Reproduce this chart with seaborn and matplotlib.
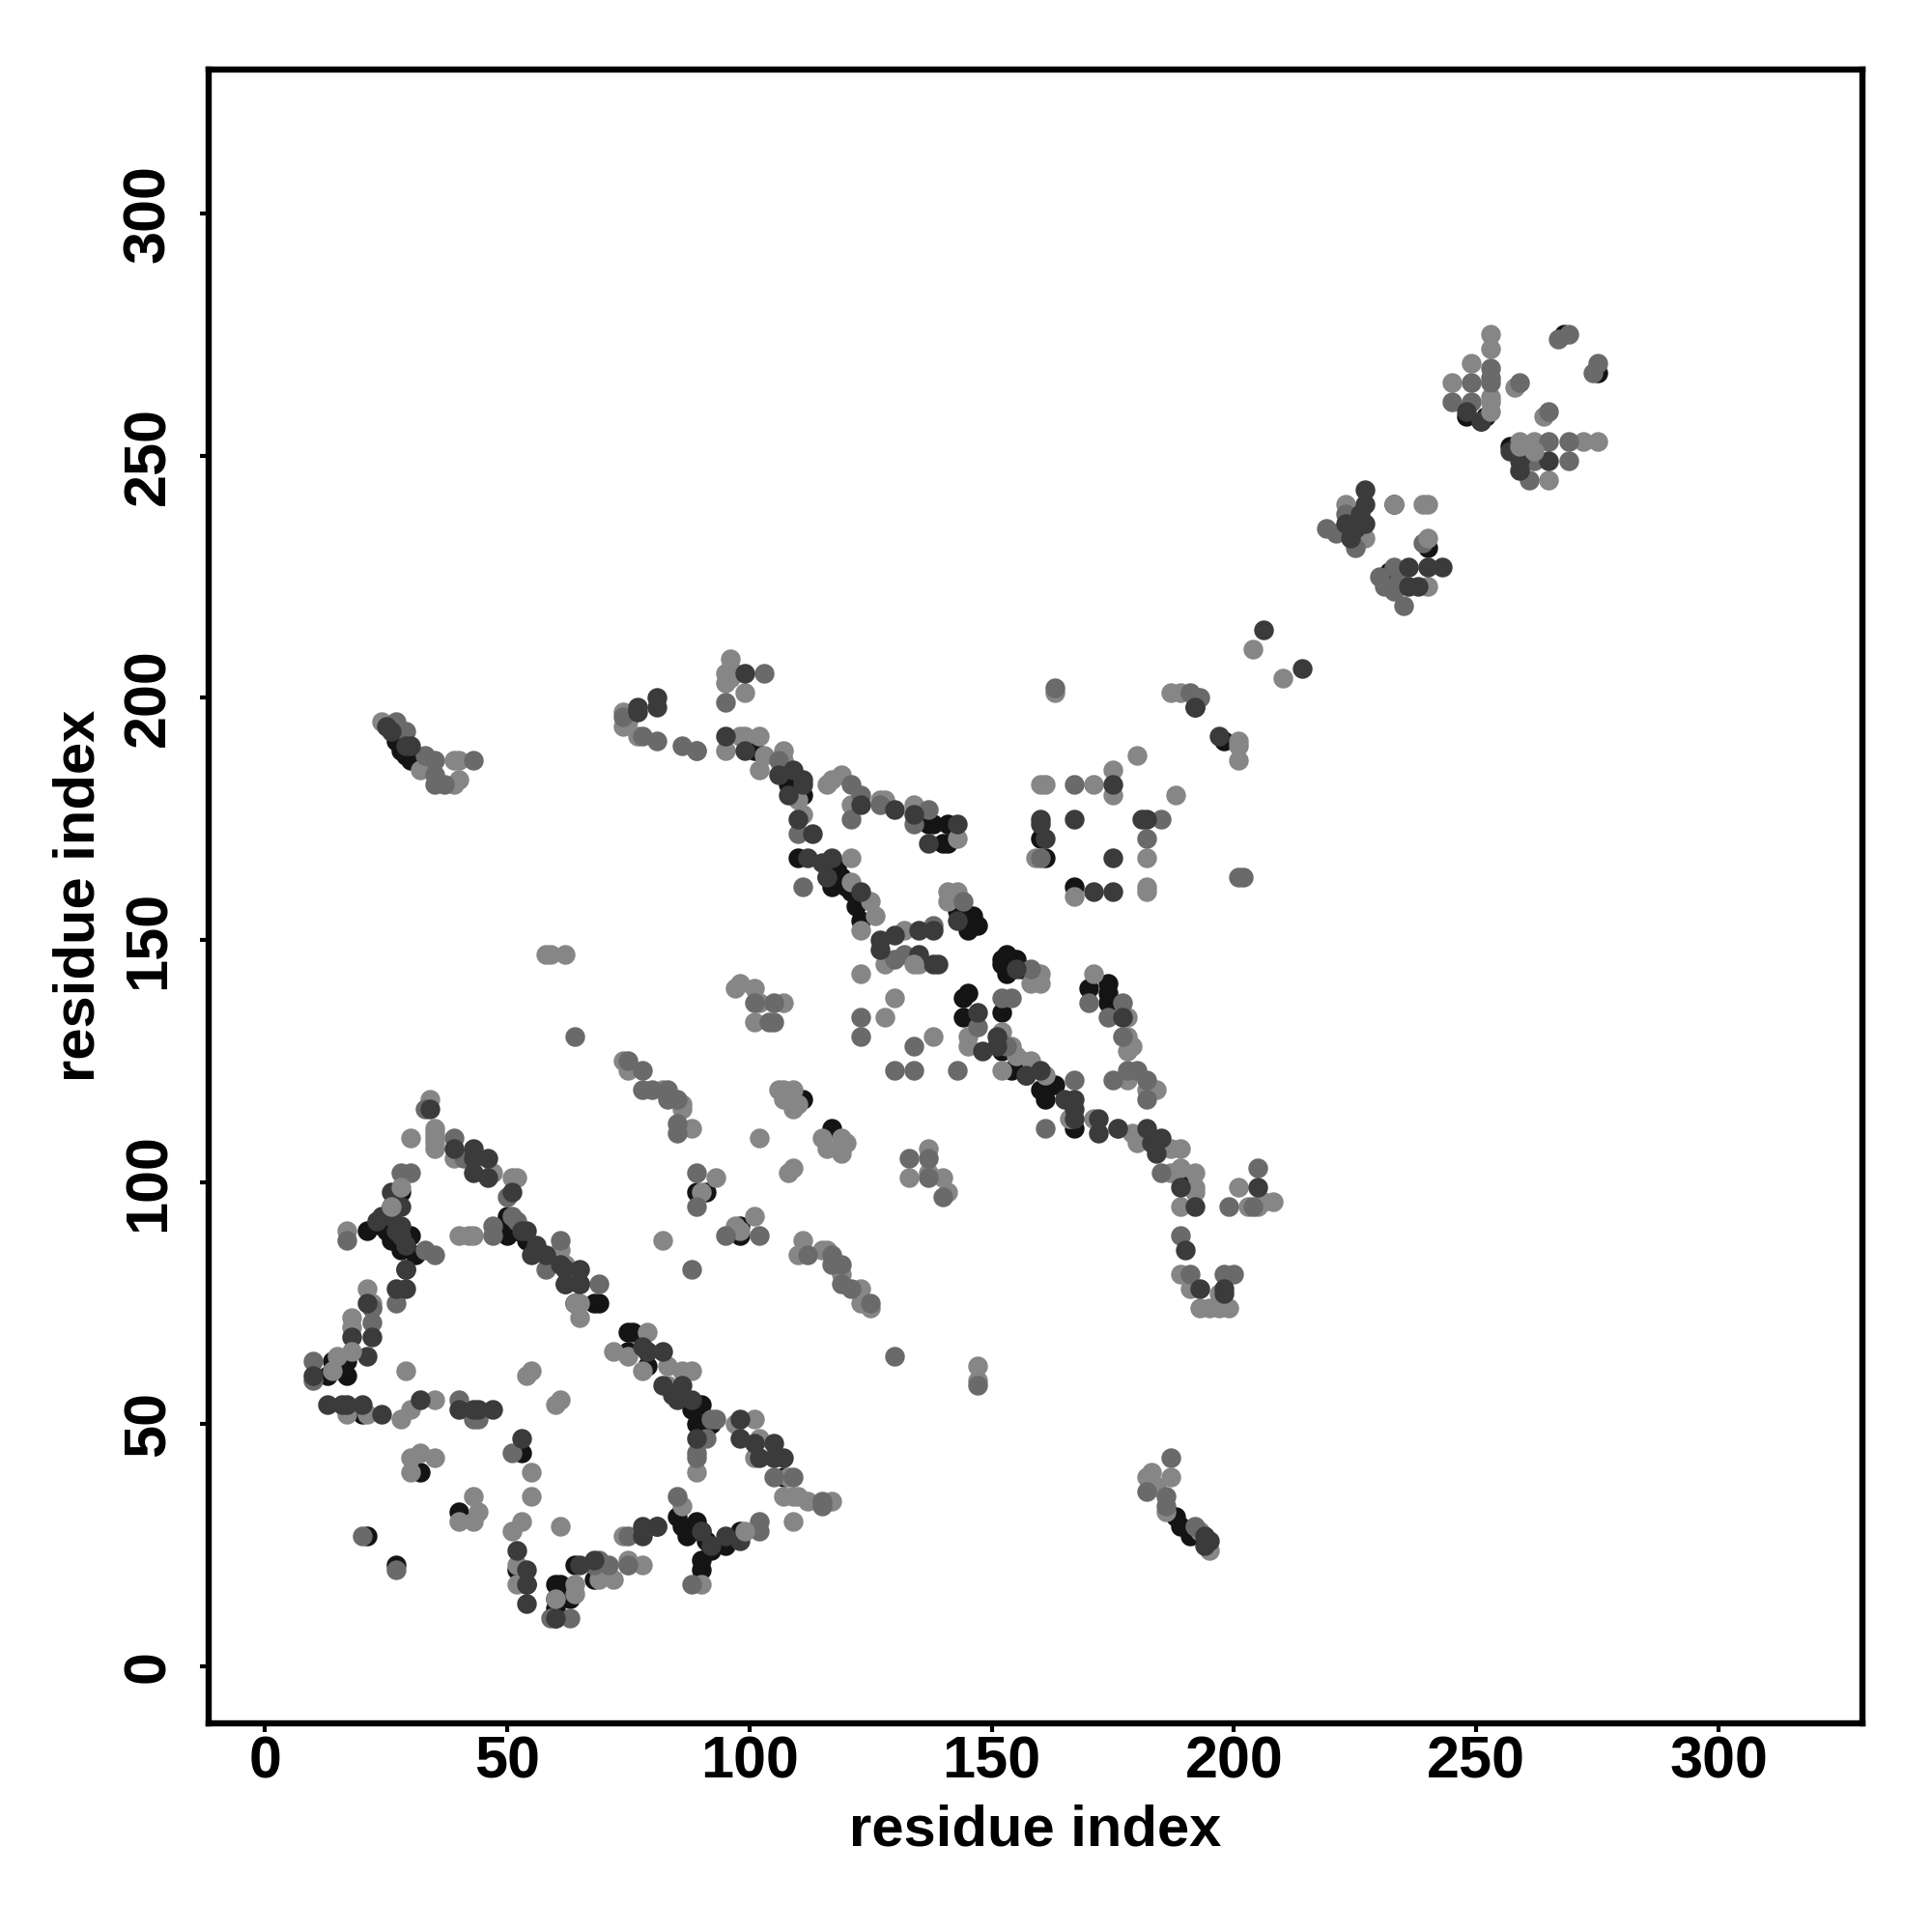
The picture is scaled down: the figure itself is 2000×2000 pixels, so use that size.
import matplotlib
matplotlib.use("Agg")
import matplotlib.pyplot as plt
import seaborn as sns
import pandas as pd

black_points = [(28,98),(26,95),(25,90),(26,88),(28,86),(24,91),(21,90),(30,89),(31,85),(29,82),(14,63),(14,61),(17,63),(13,60),(17,60),(15,62),(20,52),
    (50,93),(50,91),(50,89),(52,90),(54,88),(64,75),(65,79),(69,75),(68,75),(62,79),(76,69),(75,69),(75,65),(79,65),(79,62),(88,53),(89,54),(90,54),(89,50),(90,50),(91,49),(92,50),(107,39),
    (60,17),(60,14),(61,17),(60,12),(63,14),(64,21),(68,18),(60,10),(40,32),(32,40),(21,27),(27,21),(53,44),(52,20),(54,17),
    (85,31),(86,29),(89,30),(87,27),(90,28),(90,22),(90,20),(95,25),(98,28),(92,24),(91,26),(88,28),(81,29),
    (89,98),(91,98),(98,91),(98,89),(111,117),(117,111),
    (101,189),(107,184),(108,182),(111,180),(110,167),(117,161),(116,163),(119,163),(120,161),(122,157),(123,154),(121,160),(118,165),
    (141,174),(140,170),(141,170),(138,174),(137,174),(143,156),(146,155),(145,152),(144,154),(147,153),(146,153),(144,138),(145,139),(144,134),(152,135),
    (152,145),(153,147),(155,146),(154,144),(156,144),(153,143),(152,146),(154,123),(156,125),(152,127),(157,122),(163,120),(161,117),(160,119),(167,111),
    (181,109),(189,101),(170,140),(174,141),(174,139),(174,137),(160,171),(161,167),(167,161),(188,31),(189,29),(191,27),(192,28),
    (198,191),(192,198),(268,275),(275,267),(252,258),(251,257),(258,252),(257,252),(225,232),(240,231),(232,226),(248,258),(145,153),(233,240),
    (27,191),(28,189),(29,188),(30,187)]

dark_points = [(34,115),(39,107),(43,107),(43,105),(46,105),(43,102),(46,101),(51,98),(26,98),(23,92),(24,93),(26,93),(28,91),(27,90),(28,89),(28,95),(29,87),(27,78),(29,78),(29,82),(21,75),(22,68),(18,68),(21,64),(10,60),
    (54,90),(53,90),(56,87),(55,85),(58,85),(62,82),(65,82),(62,79),(65,79),(61,83),(13,54),(17,54),(16,54),(20,54),(24,52),(32,55),(40,53),(44,53),(43,53),(47,53),
    (53,47),(52,24),(54,20),(54,13),(54,17),(60,10),(65,21),(68,22),(78,29),(78,27),(81,29),(92,25),(95,27),(98,26),(90,28),
    (79,65),(78,66),(82,65),(82,58),(85,55),(88,55),(86,58),(84,56),(98,51),(98,47),(101,46),(105,46),(102,43),(107,43),(105,43),(89,47),
    (99,205),(95,192),(99,189),(109,185),(106,184),(111,183),(111,182),(108,180),(110,175),(113,172),(112,167),(115,166),(117,167),(116,163),(123,160),
    (123,178),(130,177),(134,176),(137,170),(143,174),(127,150),(130,151),(135,152),(138,152),(127,148),(135,147),(138,145),(139,145),
    (160,175),(160,174),(167,175),(161,171),(143,154),(155,144),(147,135),(148,127),(151,130),(151,128),(157,122),(160,123),(165,117),(167,117),(167,115),(167,113),(172,113),(172,110),(176,111),(182,111),(183,108),(185,109),(184,106),(189,99),(192,95),(205,99),
    (177,134),(190,86),(193,78),(198,77),(198,78),(248,259),(251,257),(257,251),(259,249),(259,247),(265,249),(227,240),(223,236),(227,236),(236,227),(240,227),(236,223),(238,223),(243,227),(227,243),
    (206,214),(214,206),(192,198),(197,192),(171,160),(175,160),(175,167),(181,175),(182,175),(175,182),(30,190),(26,193),(29,190),(194,27),(195,26),(194,25),(77,198),(81,200),(81,198),(77,197),
    (25,194),(226,238),(225,235),(224,233)]

mid_points = [(33,115),(39,109),(41,105),(28,102),(30,102),(50,97),(17,88),(33,86),(35,85),(47,91),(47,89),(51,93),(52,92),(61,88),(58,82),(69,79),(27,75),(22,71),(22,74),(10,63),(10,59),(40,55),(44,51),(43,51),(27,20),(20,27),(51,44),(59,10),(63,10),(68,21),(71,21),(69,22),(75,21),(75,27),
    (85,35),(102,30),(102,28),(88,17),(89,44),(89,43),(91,47),(105,39),(109,39),(115,34),(115,33),(92,51),(93,51),(75,125),(78,123),(78,119),(80,119),(83,119),(85,117),(83,117),(85,112),(85,110),
    (101,137),(105,137),(104,133),(105,133),(133,105),(137,105),(137,101),(140,97),(89,102),(89,95),(95,89),(102,89),(112,85),(117,85),(119,83),(117,83),(119,79),(121,78),(125,75),
    (130,64),(147,58),(88,82),(123,134),(123,130),(134,128),(130,123),(134,123),(143,123),(130,146),(132,147),(138,153),
    (103,205),(95,199),(89,189),(106,187),(110,172),(121,182),(123,180),(121,175),(127,178),(134,174),(137,177),(163,202),(167,182),(160,167),(144,158),(152,138),(154,138),(158,144),(147,132),(153,128),(161,111),(167,121),(189,89),(185,102),(198,81),(200,81),(205,103),(199,95),(204,95),(191,81),(177,137),(170,137),(174,134),(177,130),(175,121),(178,123),(180,123),(182,121),(182,117),(111,161),
    (245,261),(249,265),(249,261),(253,268),(253,266),(253,265),(259,265),(265,259),(267,274),(269,275),(274,267),(275,269),(265,253),(269,253),(262,249),(269,249),(261,245),(221,234),(219,235),(225,231),(239,232),(233,227),(230,225),(233,222),(235,219),
    (27,195),(29,193),(33,188),(35,187),(43,187),(35,184),(35,182),(37,182),(187,43),(182,36),(186,35),(192,29),(186,33),(74,196),(78,192),(81,191),(86,190),(89,189),(185,175),(182,171),(191,201),(193,200),(201,163),(202,163),(64,130),
    (223,238),(234,224),(231,223)]

light_points = [(34,117),(35,111),(35,110),(35,109),(35,108),(35,107),(30,109),(39,105),(47,102),(51,101),(52,101),(17,90),(21,78),(22,75),(22,74),(18,72),(18,70),(29,61),(55,61),(54,60),(17,52),(21,52),(28,51),(30,53),(35,55),(61,55),(60,54),(43,89),(42,89),(40,89),(62,83),(61,86),(65,75),(64,75),(65,72),(72,65),(79,69),(78,61),(83,62),(75,64),
    (32,44),(30,43),(35,43),(30,40),(55,40),(43,35),(44,32),(40,30),(43,30),(55,35),(53,30),(51,28),(61,29),(52,21),(52,17),(64,17),(69,20),(69,18),(72,18),(75,21),(78,21),(74,27),
    (86,33),(90,17),(75,22),(86,61),(88,61),(83,58),(89,40),(101,51),(97,50),(102,47),(101,43),(107,35),(109,35),(110,35),(112,34),(117,34),(109,30),(108,39),
    (97,140),(98,141),(101,140),(102,137),(107,137),(101,133),(106,119),(107,119),(109,119),(107,117),(109,115),(110,116),(74,125),(75,123),(82,119),(86,116),(86,115),(88,111),(102,109),(115,109),(119,109),(120,108),(119,106),(116,107),(109,103),(108,102),(137,107),(133,101),(137,102),(140,101),(141,98),(93,101),(90,98),(101,93),(97,91),(98,90),(82,88),(111,88),(110,85),(115,86),(116,86),(119,81),(123,78),(123,75),(125,74),(147,62),(147,59),
    (96,208),(96,206),(95,205),(95,203),(96,204),(99,201),(95,189),(98,192),(99,192),(102,192),(103,188),(102,185),(107,189),(107,187),(110,179),(111,176),(117,183),(119,184),(116,182),(121,178),(127,179),(128,179),(134,178),(143,171),(141,160),(143,160),(141,158),(123,143),(128,145),(132,152),(135,145),(130,138),(128,134),(138,130),(145,130),(145,128),(126,155),(125,158),(121,162),(121,167),(123,152),
    (160,182),(161,182),(159,167),(167,159),(160,143),(158,141),(160,141),(152,131),(154,128),(155,126),(152,123),(158,125),(161,122),(166,113),(171,113),(176,111),(179,110),(180,108),(187,107),(189,107),(189,103),(187,102),(192,102),(189,95),(192,99),(192,98),
    (171,143),(178,134),(179,128),(178,127),(178,130),(178,121),(184,119),(182,119),(201,99),(203,95),(205,95),(206,96),(208,96),(189,81),(191,78),(193,74),(195,74),(197,74),(199,74),(197,77),(163,201),
    (175,185),(175,180),(171,182),(180,188),(188,180),(182,167),(182,161),(182,160),(187,201),(189,201),(201,191),(201,187),(201,190),(204,210),(210,204),
    (253,275),(253,272),(249,269),(245,265),(253,262),(258,264),(264,258),(259,253),(262,253),(272,253),(275,253),(265,245),(223,240),(240,223),(227,233),
    (24,195),(32,185),(39,187),(40,187),(39,182),(40,183),(58,147),(59,147),(62,147),(183,40),(182,39),(187,39),(186,32),(193,28),(195,24),
    (74,197),(74,194),(75,195),(77,192),(183,38),(184,37),(239,240),(240,240)]

top_light_points = [(26,95),(28,99),(253,259),(253,261),(99,28),(262,251),(259,252),(14,61),(18,65),(15,64),(60,14),(64,15),(240,233),(233,240),(134,145)]

layers = [
    (black_points, "#141414"),
    (light_points, "#868686"),
    (mid_points, "#6a6a6a"),
    (dark_points, "#3b3b3b"),
    (top_light_points, "#868686"),
]
axis_ticks = [0, 50, 100, 150, 200, 250, 300]
axis_label = "residue index"

sns.set_theme(style="white")
plt.rcParams["font.family"] = ["Liberation Sans", "DejaVu Sans"]

fig = plt.figure(figsize=(10, 10), dpi=200)
ax = fig.add_axes([0.108, 0.1082, 0.856, 0.8558])
for points, colour in layers:
    frame = pd.DataFrame(points, columns=["x", "y"])
    sns.scatterplot(data=frame, x="x", y="y", color=colour, s=54, linewidth=0, ax=ax, legend=False, zorder=3)

ax.set_xlim(-11.6, 329.7)
ax.set_ylim(-11.7, 329.7)
ax.set_xticks(axis_ticks)
ax.set_yticks(axis_ticks)
ax.set_xlabel(axis_label, fontsize=21.5, fontweight="bold", color="black", labelpad=5)
ax.set_ylabel(axis_label, fontsize=21.5, fontweight="bold", color="black", labelpad=6)
ax.tick_params(axis="both", which="major", length=3.2, width=1.5, color="black", labelcolor="black",
               labelsize=22, bottom=True, left=True)
ax.tick_params(axis="x", pad=1.5)
ax.tick_params(axis="y", pad=8.5)
for label in ax.get_xticklabels():
    label.set_fontweight("bold")
for label in ax.get_yticklabels():
    label.set_fontweight("bold")
    label.set_rotation(90)
    label.set_verticalalignment("center")
for spine in ax.spines.values():
    spine.set_visible(True)
    spine.set_color("black")
    spine.set_linewidth(2.3)
fig.savefig("out.png", dpi=200, facecolor="white")
